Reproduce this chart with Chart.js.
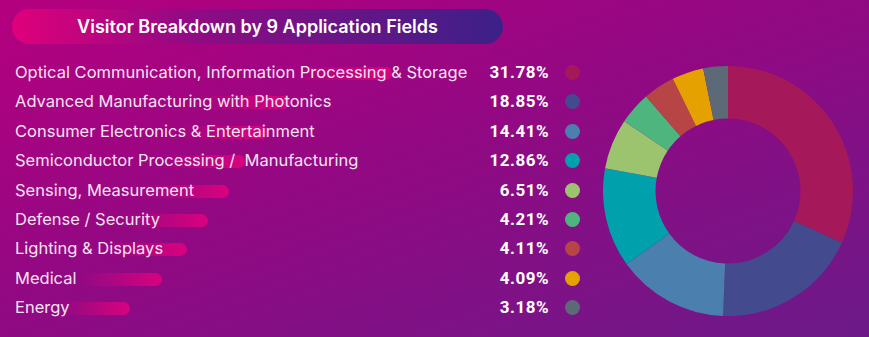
<!DOCTYPE html>
<html>
<head>
<meta charset="utf-8">
<script src="https://cdn.jsdelivr.net/npm/chart.js@4"></script>
<style>
  html, body { margin: 0; padding: 0; }
  body {
    width: 869px; height: 337px; overflow: hidden; position: relative;
    background: linear-gradient(160deg, #b5007f 0%, #930883 45%, #6c1a88 100%);
    font-family: Inter, "Open Sans", sans-serif;
  }
  .title {
    position: absolute; left: 12px; top: 9px; width: 491px; height: 35px;
    border-radius: 18px;
    background: linear-gradient(90deg, #e0007a 0%, #930a84 35%, #3c2088 100%);
    color: #fff; font-weight: 600; font-size: 18px; line-height: 35px;
    text-align: center;
  }
  .row { position: absolute; left: 0; height: 29px; width: 600px; }
  .glow {
    position: absolute; height: 13px; top: 9px; border-radius: 0 7px 7px 0;
    background: linear-gradient(90deg, rgba(230,0,125,0) 0%, rgba(230,0,125,0.85) 100%);
  }
  .lbl {
    position: absolute; left: 15px; top: 0; line-height: 29px;
    font-size: 16.5px; color: #f6e2f2; white-space: pre;
  }
  .pct {
    position: absolute; right: 51px; top: 0; line-height: 29px;
    font-family: Roboto, sans-serif; font-weight: 700; font-size: 17px; color: #fff;
    letter-spacing: 0.5px;
  }
  .dot {
    position: absolute; left: 565px; top: 7px; width: 15px; height: 15px; border-radius: 50%;
  }
  #wrap { position: absolute; left: 603px; top: 66px; width: 250px; height: 250px; }
</style>
</head>
<body>
<div class="title">Visitor Breakdown by 9 Application Fields</div>
<div id="rows"></div>
<div id="wrap"><canvas id="donut"></canvas></div>
<script>
var fields = [
  'Optical Communication, Information Processing & Storage',
  'Advanced Manufacturing with Photonics',
  'Consumer Electronics & Entertainment',
  'Semiconductor Processing /  Manufacturing',
  'Sensing, Measurement',
  'Defense / Security',
  'Lighting & Displays',
  'Medical',
  'Energy'
];
var shares = [31.78, 18.85, 14.41, 12.86, 6.51, 4.21, 4.11, 4.09, 3.18];
var colors = ['#a5195a', '#434a8e', '#4a7fae', '#00a0ac', '#9cc46f', '#4fb57f', '#b84546', '#e5a100', '#5c6a78'];

// pink streaks behind the labels: [start x, end x]
var streaks = [[290, 392], [200, 290], [180, 268], [160, 245], [140, 229], [120, 208], [100, 187], [80, 162], [60, 130]];

var rows = document.getElementById('rows');
fields.forEach(function (name, i) {
  var row = document.createElement('div');
  row.className = 'row';
  row.style.top = (58 + i * 29.4) + 'px';
  row.innerHTML =
    '<div class="glow" style="left:' + streaks[i][0] + 'px;width:' + (streaks[i][1] - streaks[i][0]) + 'px"></div>' +
    '<div class="lbl"></div>' +
    '<div class="pct">' + shares[i].toFixed(2) + '%</div>' +
    '<div class="dot" style="background:' + colors[i] + '"></div>';
  row.querySelector('.lbl').textContent = name;
  rows.appendChild(row);
});

var ctx = document.getElementById('donut').getContext('2d');
var donut = new Chart(ctx, {
  type: 'doughnut',
  data: {
    labels: fields,
    datasets: [{
      data: shares,
      backgroundColor: colors,
      borderWidth: 0
    }]
  },
  options: {
    responsive: true,
    maintainAspectRatio: false,
    animation: false,
    cutout: '58%',
    layout: { padding: 0 },
    plugins: {
      legend: { display: false },
      tooltip: { enabled: false }
    }
  }
});
</script>
</body>
</html>
